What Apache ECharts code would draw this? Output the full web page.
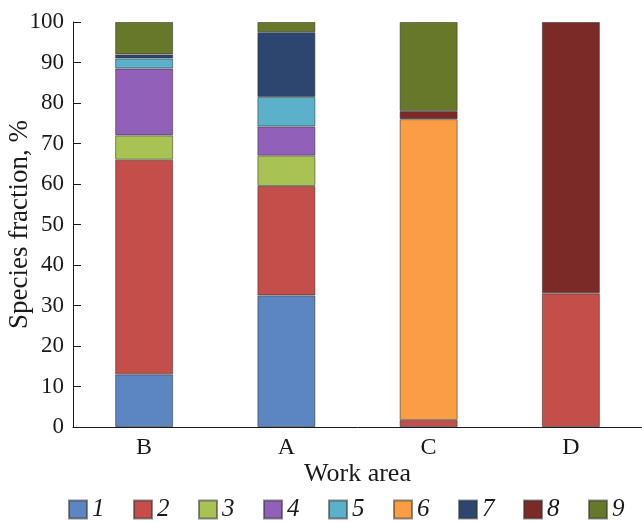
<!DOCTYPE html>
<html>
<head>
<meta charset="utf-8">
<script src="https://cdn.jsdelivr.net/npm/echarts@6/dist/echarts.min.js"></script>
<style>
  html, body { margin: 0; padding: 0; background: #fff; }
  #chart { width: 642px; height: 523px; }
</style>
</head>
<body>
<div id="chart"></div>
<script>
// Work areas along the x axis
const areas = ['B', 'A', 'C', 'D'];
// Species group labels (legend)
const groups = ['1', '2', '3', '4', '5', '6', '7', '8', '9'];
const groupColors = ['#5b86c2', '#c44e4a', '#a8c354', '#9160b8', '#5ab1c9', '#fb9d44', '#2c4670', '#7b2a27', '#67782a'];

// Species fraction, % per group for each work area (B, A, C, D)
const g1 = [13, 32.5, '-', '-'];
const g2 = [53, 27, 1.7, 33];
const g3 = [6, 7.5, '-', '-'];
const g4 = [16.5, 7.2, '-', '-'];
const g5 = [2.5, 7.3, '-', '-'];
const g6 = ['-', '-', 74.3, '-'];
const g7 = [1, 16, '-', '-'];
const g8 = ['-', '-', 2, 67];
const g9 = [8, 2.5, 22, '-'];
const groupValues = [g1, g2, g3, g4, g5, g6, g7, g8, g9];

const yTicks = { min: 0, max: 100, interval: 10 };

const serif = 'Liberation Serif';
const ink = '#1a1a1a';
const chart = echarts.init(document.getElementById('chart'));

chart.setOption({
  animation: false,
  backgroundColor: '#fff',
  grid: {
    left: 73, right: 0, top: 22, bottom: 96,
    containLabel: false,
    outerBoundsMode: 'none'
  },
  legend: {
    data: groups,
    top: 497,
    left: 68,
    padding: 0,
    itemWidth: 18,
    itemHeight: 18,
    itemGap: 28.5,
    icon: 'rect',
    textStyle: { fontFamily: serif, fontStyle: 'italic', fontSize: 25, color: ink }
  },
  xAxis: {
    type: 'category',
    data: areas,
    name: 'Work area',
    nameLocation: 'middle',
    nameGap: 34,
    nameMoveOverlap: false,
    nameTextStyle: { fontFamily: serif, fontSize: 26, color: ink },
    axisLine: { lineStyle: { color: ink, width: 1 } },
    axisTick: { inside: true, length: 8, lineStyle: { color: ink } },
    axisLabel: { fontFamily: serif, fontSize: 24, color: ink, margin: 9 }
  },
  yAxis: {
    type: 'value',
    min: yTicks.min,
    max: yTicks.max,
    interval: yTicks.interval,
    name: 'Species fraction, %',
    nameLocation: 'middle',
    nameGap: 40,
    nameMoveOverlap: false,
    nameTextStyle: { fontFamily: serif, fontSize: 27, color: ink },
    axisLine: { show: true, lineStyle: { color: ink, width: 1 } },
    axisTick: { show: true, inside: true, length: 8, lineStyle: { color: ink } },
    axisLabel: { fontFamily: serif, fontSize: 23, color: ink, margin: 9 },
    splitLine: { show: false }
  },
  series: groups.map((g, i) => ({
    name: g,
    type: 'bar',
    stack: 'total',
    barWidth: 58,
    data: groupValues[i],
    itemStyle: {
      color: groupColors[i],
      borderColor: 'rgba(50,50,50,0.55)',
      borderWidth: 1
    }
  }))
});
</script>
</body>
</html>
